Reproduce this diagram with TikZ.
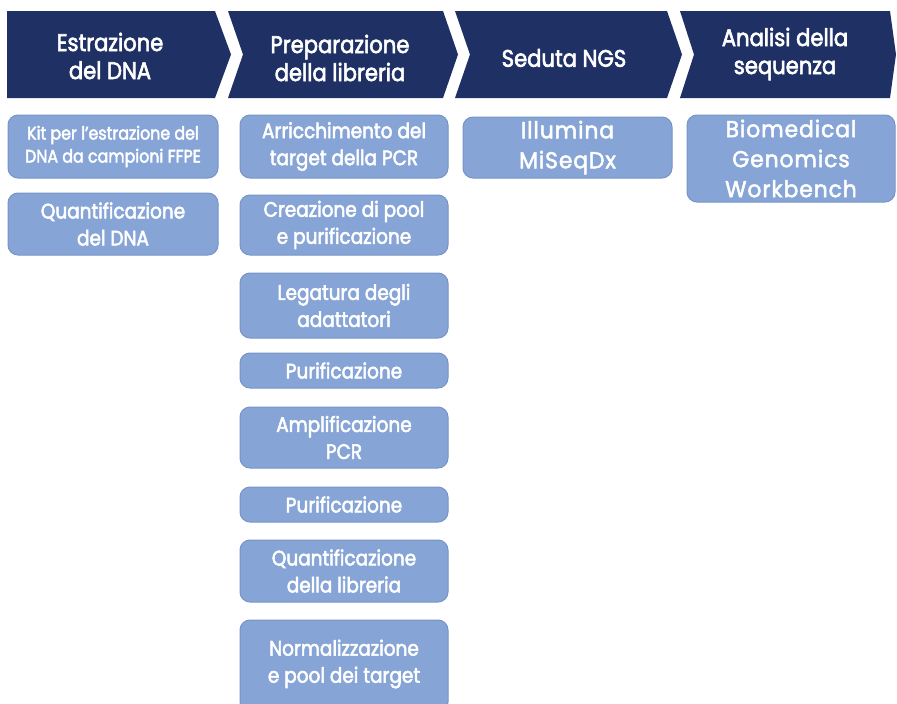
\documentclass[tikz,border=0pt]{standalone}
\usepackage{fontspec}
\setmainfont{Poppins}
\newfontfamily\futura{Poppins}[FakeStretch=0.88,FakeBold=2.5]
\newfontfamily\gothic{Poppins}[FakeStretch=0.95,FakeBold=2.2,LetterSpace=4]
\definecolor{navy}{RGB}{30,48,100}
\definecolor{boxblue}{RGB}{134,165,214}
\definecolor{boxedge}{RGB}{118,148,198}
\tikzset{
  chev/.style={fill=navy},
  hdr/.style={text=white,align=center,font=\futura\fontsize{24}{28}\selectfont,inner sep=0pt},
  stepbox/.style={rounded corners=10pt,fill=boxblue,draw=boxedge,line width=1pt,
    text=white,align=center,inner sep=0pt,font=\futura\fontsize{21}{27}\selectfont},
  gbox/.style={stepbox,font=\gothic\fontsize{23}{30}\selectfont}
}
\begin{document}
\begin{tikzpicture}[x=1pt,y=-1pt]
\clip (0,0) rectangle (897,704);
\fill[white] (0,0) rectangle (897,704);
% header chevrons
\fill[chev] (7,11) -- (215,11) -- (231,54.5) -- (215,98) -- (7,98) -- cycle;
\fill[chev] (228,11) -- (443,11) -- (458,54.5) -- (443,98) -- (228,98) -- (243,54.5) -- cycle;
\fill[chev] (455,11) -- (667,11) -- (682,54.5) -- (667,98) -- (455,98) -- (470,54.5) -- cycle;
\fill[chev] (680,11) -- (890,11) -- (896,54.5) -- (890,98) -- (680,98) -- (694,54.5) -- cycle;
\node[hdr] (h1) at (110,56) {Estrazione\\del DNA};
\node[hdr] (h2) at (340,58) {Preparazione\\della libreria};
\node[hdr] (h3) at (564,58) {Seduta NGS};
\node[hdr] (h4) at (785,54) {Analisi della\\sequenza};
% column 1
\node[stepbox,minimum width=210pt,minimum height=63pt,font=\futura\fontsize{18}{23}\selectfont] (c1a) at (113,146.5) {Kit per l’estrazione del\\DNA da campioni FFPE};
\node[stepbox,minimum width=210pt,minimum height=62pt] (c1b) at (113,224) {Quantificazione\\del DNA};
% column 2
\node[stepbox,minimum width=208pt,minimum height=63pt] (c2a) at (344,146.5) {Arricchimento del\\target della PCR};
\node[stepbox,minimum width=208pt,minimum height=60pt] (c2b) at (344,225) {Creazione di pool\\e purificazione};
\node[stepbox,minimum width=208pt,minimum height=65pt] (c2c) at (344,305.5) {Legatura degli\\adattatori};
\node[stepbox,minimum width=208pt,minimum height=35pt] (c2d) at (344,370.5) {Purificazione};
\node[stepbox,minimum width=208pt,minimum height=61pt] (c2e) at (344,437.5) {Amplificazione\\PCR};
\node[stepbox,minimum width=208pt,minimum height=35pt] (c2f) at (344,504.5) {Purificazione};
\node[stepbox,minimum width=208pt,minimum height=62pt] (c2g) at (344,571) {Quantificazione\\della libreria};
\node[stepbox,minimum width=208pt,minimum height=92pt] (c2h) at (344,666) {};
\node[text=white,align=center,inner sep=0pt,font=\futura\fontsize{21}{27}\selectfont] (c2ht) at (344,664) {Normalizzazione\\e pool dei target};
% column 3
\node[gbox,minimum width=209pt,minimum height=61pt] (c3a) at (567.5,147.5) {Illumina\\MiSeqDx};
% column 4
\node[gbox,minimum width=208pt,minimum height=87pt] (c4a) at (791,158.5) {Biomedical\\Genomics\\Workbench};
\end{tikzpicture}
\end{document}
